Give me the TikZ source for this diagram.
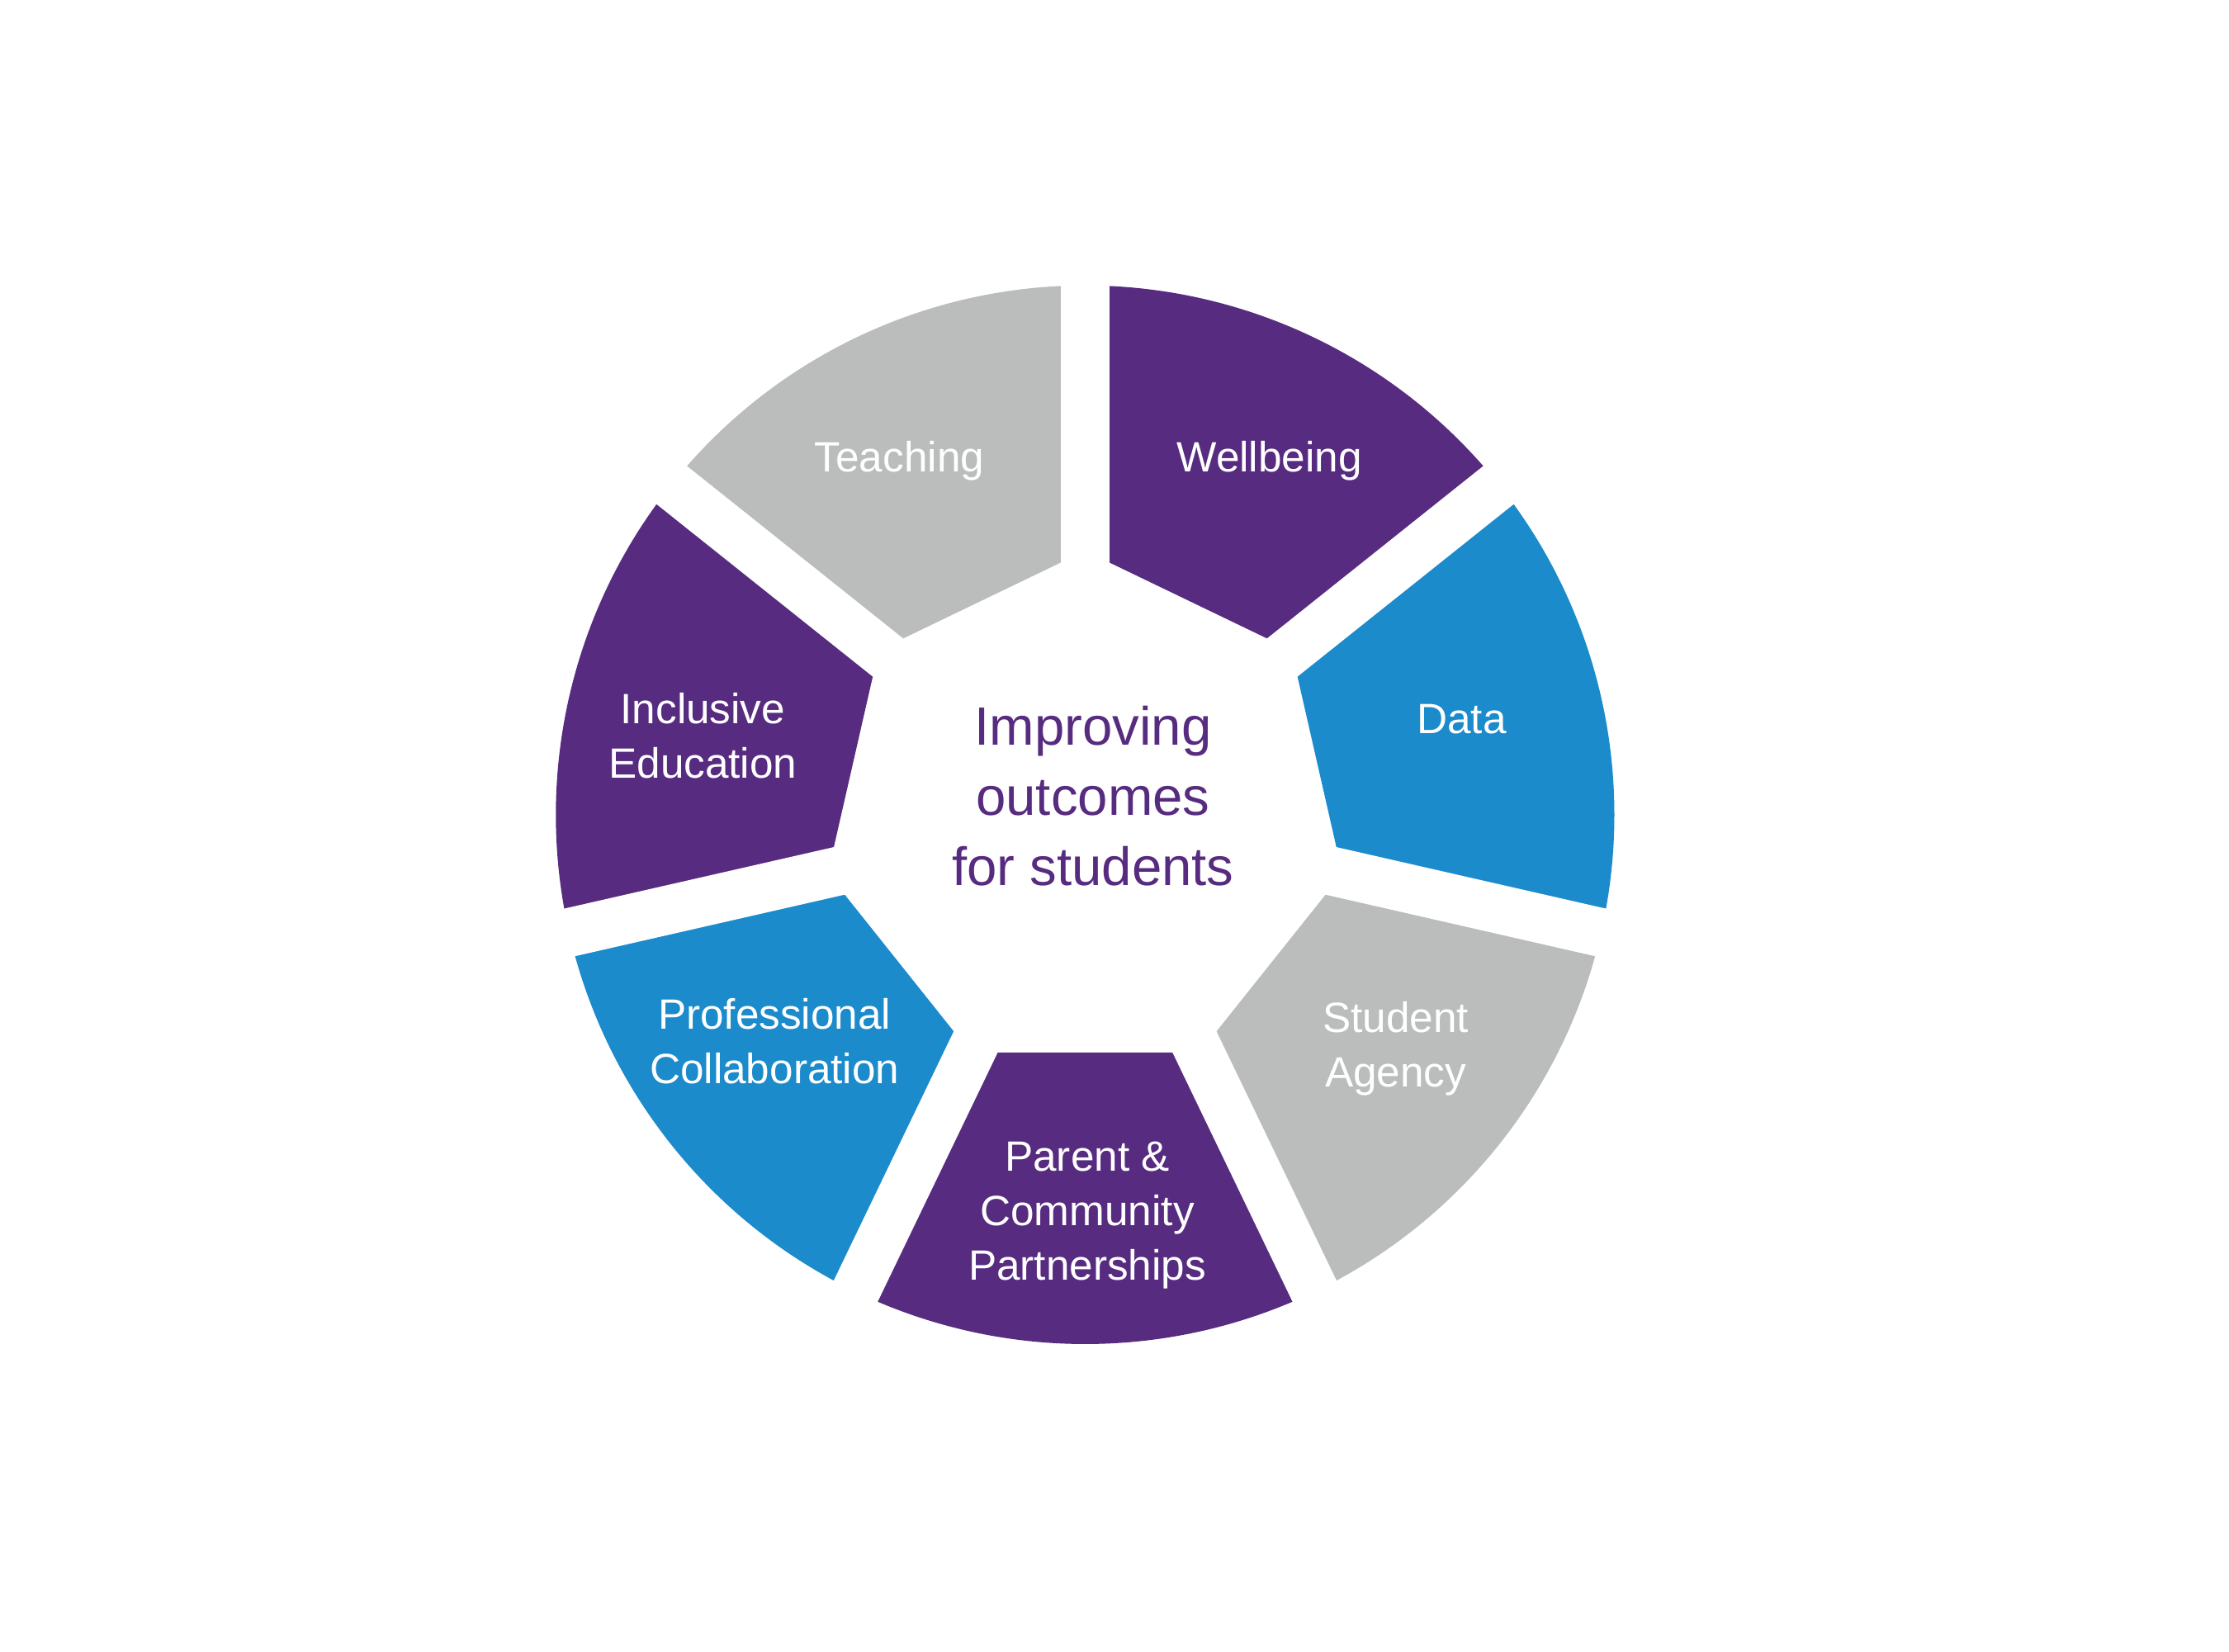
\documentclass[tikz,border=0pt]{standalone}
\usepackage{fontspec}
\setmainfont{Liberation Sans}
\definecolor{dpurple}{RGB}{87,44,128}
\definecolor{dblue}{RGB}{27,139,204}
\definecolor{dgray}{RGB}{187,188,188}
\tikzset{
  seglabel/.style={text=white, align=center, font=\fontsize{8.4}{10.8}\selectfont, inner sep=0pt},
  centrelabel/.style={text=dpurple, align=center, font=\fontsize{10.7}{13.9}\selectfont, inner sep=0pt},
  gapline/.style={white, line width=0.34cm}
}
\begin{document}
\begin{tikzpicture}
\useasboundingbox (0,0) rectangle (15.54,11.511);
\fill[white] (0,0) rectangle (15.54,11.511);
\begin{scope}[shift={(7.565,5.831)}]
  \def\Rout{3.69}
  \def\Rin{1.84}
  \foreach \i/\col in {0/dpurple,1/dblue,2/dgray,3/dpurple,4/dblue,5/dpurple,6/dgray}{
    \pgfmathsetmacro\aa{90-51.428571*\i}
    \pgfmathsetmacro\ab{\aa-51.428571}
    \fill[\col] (\aa:\Rin) -- (\ab:\Rin) -- (\ab:\Rout) arc[start angle=\ab, end angle=\aa, radius=\Rout] -- cycle;
  }
  \foreach \i in {0,...,6}{
    \draw[gapline] ({90-51.428571*\i}:1.5) -- ({90-51.428571*\i}:3.9);
  }
\end{scope}
\node[centrelabel] (centre) at (7.62,5.96) {Improving\\outcomes\\for students};
\node[seglabel] (teaching) at (6.27,8.30) {Teaching};
\node[seglabel] (wellbeing) at (8.85,8.30) {Wellbeing};
\node[seglabel] (data) at (10.19,6.50) {Data};
\node[seglabel] (agency) at (9.73,4.20) {Student\\Agency};
\node[seglabel] (parent) at (7.58,3.04) {Parent \&\\Community\\Partnerships};
\node[seglabel] (prof) at (5.40,4.25) {Professional\\Collaboration};
\node[seglabel] (inclusive) at (4.90,6.38) {Inclusive\\Education};
\end{tikzpicture}
\end{document}
